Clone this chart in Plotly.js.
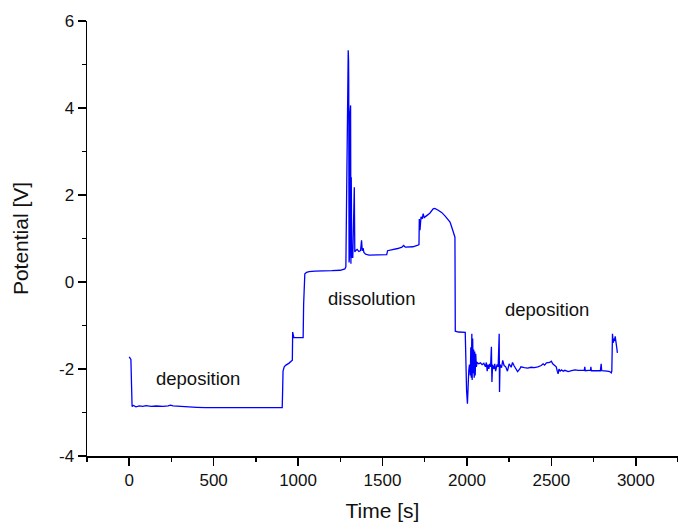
<!DOCTYPE html>
<html>
<head>
<meta charset="utf-8">
<script src="https://cdn.plot.ly/plotly-3.0.1.min.js"></script>
<style>html,body{margin:0;padding:0;background:#fff;}#chart{width:678px;height:525px;}</style>
</head>
<body>
<div id="chart"></div>
<script>
// Time [s]
const timeS = [
  0, 5, 10, 14, 17, 25, 40, 60, 80, 100, 130, 160, 200, 230, 245, 260, 290, 320, 350, 400, 450, 500, 550, 600, 650, 700, 750, 800, 850, 900, 906,
  908, 911, 918, 928, 945, 960, 966, 968, 970, 975, 1000, 1030, 1033, 1040, 1050, 1065, 1100, 1150, 1200, 1250, 1277,
  1283, 1293, 1297, 1299, 1300, 1302, 1305, 1308, 1311, 1313, 1315, 1318, 1321, 1324, 1333, 1336, 1340, 1350, 1360, 1370, 1376, 1380, 1385, 1390, 1400, 1420,
  1460, 1500, 1525, 1530, 1560, 1590, 1615, 1625, 1635, 1680, 1710, 1716, 1718, 1722, 1728, 1735, 1741, 1747, 1760, 1780, 1800, 1810, 1830, 1850, 1870, 1885, 1900, 1915, 1925, 1929,
  1931, 1950, 1990, 1993, 1998, 2003, 2007, 2011, 2015,
  2020, 2023, 2026, 2029, 2031, 2034, 2037, 2040, 2043, 2046, 2049, 2052, 2056, 2060, 2070, 2080, 2090, 2100, 2110, 2115, 2120, 2125, 2130, 2135, 2140, 2145, 2148, 2152, 2160, 2165, 2170, 2178, 2185, 2191, 2193, 2196,
  2205, 2212, 2220, 2230, 2240, 2250, 2262, 2270, 2280, 2290, 2300, 2313, 2320, 2340, 2360, 2380, 2400, 2420, 2440, 2451, 2460, 2471, 2490, 2500, 2508, 2520, 2529, 2535, 2540, 2545, 2552, 2560, 2570, 2580,
  2600, 2620, 2640, 2660, 2680, 2695, 2698, 2701, 2720, 2732, 2734, 2737, 2760, 2790, 2795, 2798, 2830, 2846, 2855, 2858, 2862, 2866, 2870, 2874, 2878, 2882, 2887, 2891
];
// Potential [V]
const potentialV = [
  -1.72, -1.75, -1.78, -2.4, -2.86, -2.84, -2.87, -2.85, -2.86, -2.84, -2.86, -2.85, -2.86, -2.85, -2.83, -2.85, -2.86, -2.87, -2.88, -2.88, -2.89, -2.89, -2.89, -2.89, -2.89, -2.89, -2.89, -2.88, -2.89, -2.89, -2.89,
  -2.6, -2.05, -1.95, -1.91, -1.87, -1.83, -1.80, -1.15, -1.20, -1.28, -1.28, -1.28, -0.5, 0.19, 0.22, 0.24, 0.25, 0.25, 0.26, 0.27, 0.30,
  0.35, 4.8, 5.33, 5.1, 4.6, 0.45, 0.6, 3.9, 4.06, 0.42, 2.41, 0.55, 0.8, 0.55, 2.18, 0.69, 0.72, 0.75, 0.70, 0.72, 0.96, 0.72, 0.78, 0.68, 0.64, 0.62,
  0.62, 0.62, 0.63, 0.72, 0.74, 0.77, 0.80, 0.84, 0.80, 0.81, 0.85, 0.86, 1.45, 1.19, 1.50, 1.45, 1.57, 1.48, 1.52, 1.58, 1.68, 1.69, 1.65, 1.60, 1.52, 1.45, 1.38, 1.20, 1.08, 1.03,
  -1.13, -1.15, -1.16, -2.1, -2.5, -2.80, -2.2, -2.03, -1.9,
  -2.15, -1.5, -2.2, -1.19, -2.25, -1.3, -2.1, -1.55, -2.2, -1.6, -2.15, -1.65, -1.95, -1.85, -1.88, -1.86, -1.9, -1.87, -1.95, -1.85, -2.05, -1.9, -2.0, -1.88, -1.95, -1.49, -2.30, -1.9, -2.0, -1.88, -2.05, -1.9, -1.95, -1.19, -2.53, -1.9,
  -1.97, -1.8, -1.92, -1.95, -2.05, -1.88, -1.96, -1.85, -1.93, -2.0, -2.06, -2.0, -1.95, -1.97, -1.98, -1.96, -1.97, -1.95, -1.92, -1.88, -1.91, -1.86, -1.85, -1.82, -1.88, -1.92, -1.95, -2.05, -2.11, -2.0, -2.05, -2.02, -2.05, -2.03,
  -2.06, -2.04, -2.02, -2.03, -2.04, -2.03, -1.95, -2.04, -2.03, -2.03, -1.95, -2.04, -2.04, -2.04, -1.88, -2.04, -2.05, -2.06, -2.09, -2.05, -1.19, -1.4, -1.3, -1.36, -1.25, -1.45, -1.5, -1.63
];
// Tick labels
const xTickVals = [0, 500, 1000, 1500, 2000, 2500, 3000];
const xTickText = ["0", "500", "1000", "1500", "2000", "2500", "3000"];
const yTickVals = [-4, -2, 0, 2, 4, 6];
const yTickText = ["-4", "-2", "0", "2", "4", "6"];
// Region labels
const labelText = ["deposition", "dissolution", "deposition"];
const labelX = [407, 1435, 2477];
const labelY = [-2.22, -0.38, -0.64];

const FONT = '"Liberation Sans", Arial, sans-serif';

const trace = {
  x: timeS, y: potentialV, type: 'scatter', mode: 'lines',
  line: {color: '#0000ff', width: 1.3}, hoverinfo: 'skip'
};

const annotations = labelText.map((t, i) => ({
  x: labelX[i], y: labelY[i], xref: 'x', yref: 'y', text: t, showarrow: false,
  font: {family: FONT, size: 18.5, color: '#111'}, xanchor: 'center', yanchor: 'middle'
}));

const axisCommon = {
  showgrid: false, zeroline: false, showline: true, linecolor: '#000', linewidth: 1.5,
  ticks: 'outside', ticklen: 8, tickwidth: 1.5, tickcolor: '#000',
  tickfont: {family: FONT, size: 17, color: '#111'}, mirror: false, tickmode: 'array'
};

const layout = {
  width: 678, height: 525,
  margin: {l: 87, r: 0, t: 21, b: 69},
  paper_bgcolor: '#fff', plot_bgcolor: '#fff',
  showlegend: false,
  xaxis: Object.assign({}, axisCommon, {
    range: [-250, 3250], tickvals: xTickVals, ticktext: xTickText,
    minor: {tickmode: 'linear', dtick: 250, tick0: 0, ticks: 'outside', ticklen: 4, tickwidth: 1.5, tickcolor: '#000'},
    title: {text: 'Time [s]', font: {family: FONT, size: 21, color: '#111'}, standoff: 14}
  }),
  yaxis: Object.assign({}, axisCommon, {
    range: [-4, 6], tickvals: yTickVals, ticktext: yTickText,
    minor: {tickmode: 'linear', dtick: 1, tick0: 0, ticks: 'outside', ticklen: 4, tickwidth: 1.5, tickcolor: '#000'},
    title: {text: 'Potential [V]', font: {family: FONT, size: 21, color: '#111'}, standoff: 24}
  }),
  annotations: annotations
};

Plotly.newPlot('chart', [trace], layout, {displayModeBar: false, staticPlot: true});
</script>
</body>
</html>
